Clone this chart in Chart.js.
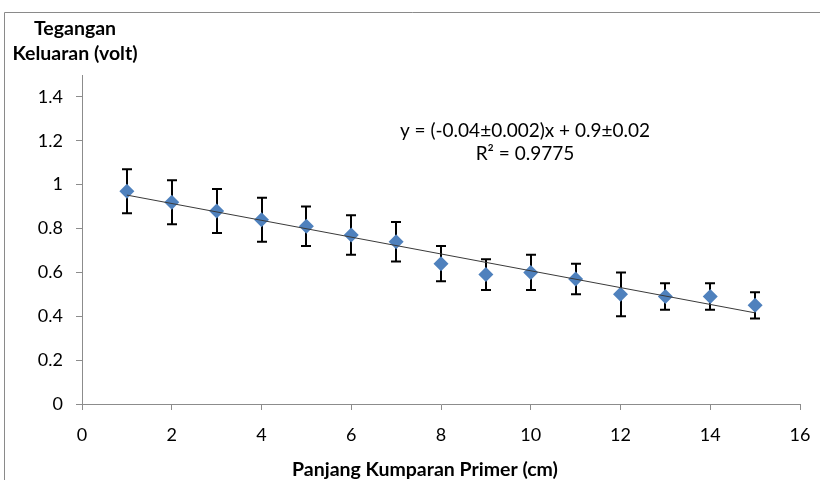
<!DOCTYPE html>
<html>
<head>
<meta charset="utf-8">
<script src="https://cdn.jsdelivr.net/npm/chart.js@4"></script>
<style>
  html, body { margin: 0; padding: 0; background: #fff; }
  #wrap { width: 820px; height: 480px; position: relative; }
</style>
</head>
<body>
<div id="wrap"><canvas id="chart" width="820" height="480"></canvas></div>
<script>
// panjang kumparan (cm)
const xVals = [1, 2, 3, 4, 5, 6, 7, 8, 9, 10, 11, 12, 13, 14, 15];
// tegangan keluaran (volt)
const yVals = [0.97, 0.92, 0.88, 0.84, 0.81, 0.77, 0.74, 0.64, 0.59, 0.60, 0.57, 0.50, 0.49, 0.49, 0.45];
const yErr = [0.10, 0.10, 0.10, 0.10, 0.09, 0.09, 0.09, 0.08, 0.07, 0.08, 0.07, 0.10, 0.06, 0.06, 0.06];
const xTicks = [0, 2, 4, 6, 8, 10, 12, 14, 16];
const yTicks = [0, 0.2, 0.4, 0.6, 0.8, 1, 1.2, 1.4];
const yTitle = ['Tegangan', 'Keluaran (volt)'];
const xTitle = 'Panjang Kumparan Primer (cm)';
const eqLines = ['y = (-0.04±0.002)x + 0.9±0.02', 'R² = 0.9775'];

// least squares fit, like the excel trendline
function linFit(xs, ys) {
  let n = xs.length, sx = 0, sy = 0, sxy = 0, sxx = 0;
  for (var i = 0; i < n; i++) {
    sx += xs[i]; sy += ys[i]; sxy += xs[i] * ys[i]; sxx += xs[i] * xs[i];
  }
  const b = (n * sxy - sx * sy) / (n * sxx - sx * sx);
  const a = (sy - b * sx) / n;
  return { a: a, b: b };
}
const fit = linFit(xVals, yVals);
const xFirst = xVals[0], xLast = xVals[xVals.length - 1];
const trendData = [
  { x: xFirst, y: fit.a + fit.b * xFirst },
  { x: xLast, y: fit.a + fit.b * xLast }
];
const pointData = xVals.map((x, i) => ({ x: x, y: yVals[i] }));

const FONT = 'Lato, "Open Sans", sans-serif';

const errorBars = {
  id: 'errorBars',
  beforeDatasetDraw(chart, args) {
    if (args.index !== 1) return;
    const ctx = chart.ctx;
    const xs = chart.scales.x, ys = chart.scales.y;
    ctx.save();
    ctx.strokeStyle = '#000';
    ctx.lineWidth = 2;
    for (var i = 0; i < xVals.length; i++) {
      const px = Math.round(xs.getPixelForValue(xVals[i]));
      const top = ys.getPixelForValue(yVals[i] + yErr[i]);
      const bot = ys.getPixelForValue(yVals[i] - yErr[i]);
      ctx.beginPath();
      ctx.moveTo(px, top); ctx.lineTo(px, bot);
      ctx.moveTo(px - 5, top); ctx.lineTo(px + 5, top);
      ctx.moveTo(px - 5, bot); ctx.lineTo(px + 5, bot);
      ctx.stroke();
    }
    ctx.restore();
  }
};

const decorations = {
  id: 'decorations',
  beforeDraw(chart) {
    const ctx = chart.ctx;
    ctx.save();
    ctx.fillStyle = '#fff';
    ctx.fillRect(0, 0, chart.width, chart.height);
    ctx.strokeStyle = '#8a8a8a';
    ctx.lineWidth = 1;
    ctx.beginPath();
    ctx.moveTo(4.5, chart.height);
    ctx.lineTo(4.5, 12.5);
    ctx.lineTo(chart.width, 12.5);
    ctx.stroke();
    ctx.restore();
  },
  afterDraw(chart) {
    const ctx = chart.ctx;
    ctx.save();
    ctx.fillStyle = '#000';
    ctx.textAlign = 'center';
    ctx.textBaseline = 'alphabetic';
    ctx.font = 'bold 19.5px ' + FONT;
    ctx.fillText(yTitle[0], 75, 35);
    ctx.fillText(yTitle[1], 75, 60);
    ctx.fillText(xTitle, 425, 476);
    ctx.font = '19px ' + FONT;
    ctx.fillText(eqLines[0], 525, 137);
    ctx.fillText(eqLines[1], 525, 160);
    ctx.restore();
  }
};

new Chart(document.getElementById('chart'), {
  type: 'scatter',
  data: {
    datasets: [
      {
        type: 'line',
        label: 'trend',
        data: trendData,
        borderColor: '#3a3a3a',
        borderWidth: 1,
        pointRadius: 0,
        fill: false,
        order: 0
      },
      {
        label: 'data',
        data: pointData,
        pointStyle: 'rectRot',
        pointRadius: 7.5,
        pointHoverRadius: 7.5,
        backgroundColor: '#4f81bd',
        borderColor: '#4f81bd',
        borderWidth: 0,
        order: 1
      }
    ]
  },
  options: {
    responsive: false,
    animation: false,
    events: [],
    layout: { padding: { left: 0, right: 20, top: 75, bottom: 0 } },
    plugins: {
      legend: { display: false },
      tooltip: { enabled: false }
    },
    scales: {
      x: {
        type: 'linear',
        min: 0,
        max: 16,
        afterBuildTicks: (s) => { s.ticks = xTicks.map(v => ({ value: v })); },
        afterFit: (s) => { s.height = 76; s.paddingLeft = 0; s.paddingRight = 0; },
        border: { display: true, color: '#8c8c8c', width: 1 },
        grid: { display: true, drawOnChartArea: false, drawTicks: true, tickLength: 6, color: '#8c8c8c' },
        ticks: {
          color: '#000',
          font: { family: FONT, size: 18 },
          padding: 14,
          maxRotation: 0,
          callback: (v) => String(v)
        }
      },
      y: {
        type: 'linear',
        min: 0,
        max: 1.5,
        afterBuildTicks: (s) => { s.ticks = yTicks.map(v => ({ value: v })); },
        afterFit: (s) => { s.width = 82; s.paddingTop = 0; s.paddingBottom = 0; },
        border: { display: true, color: '#8c8c8c', width: 1 },
        grid: { display: true, drawOnChartArea: false, drawTicks: true, tickLength: 6, color: '#8c8c8c' },
        ticks: {
          color: '#000',
          font: { family: FONT, size: 18 },
          padding: 13,
          callback: (v) => String(+v.toFixed(1))
        }
      }
    }
  },
  plugins: [decorations, errorBars]
});
</script>
</body>
</html>
